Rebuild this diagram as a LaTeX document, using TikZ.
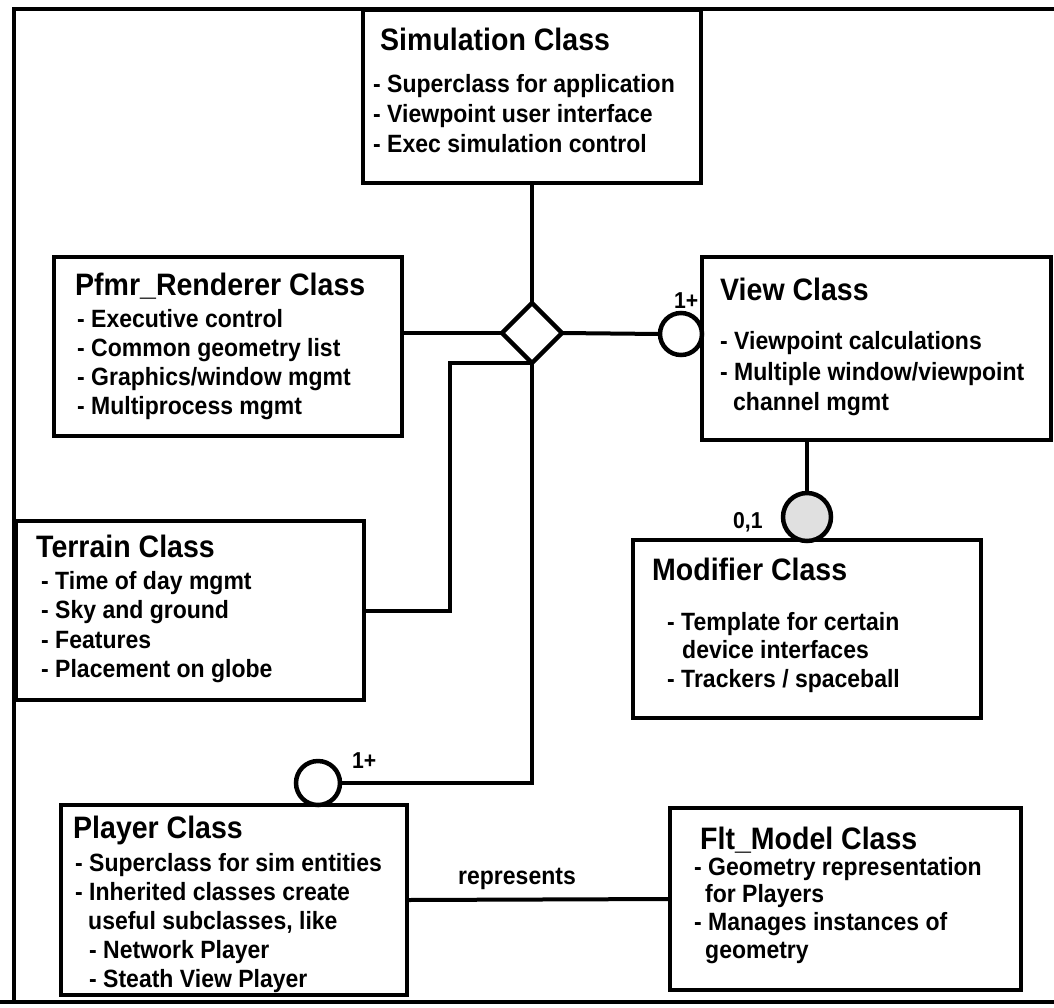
\documentclass[tikz,border=0pt]{standalone}
\usepackage{fontspec}
\setmainfont{Liberation Sans}[BoldFeatures={FakeStretch=0.92}]
\usetikzlibrary{shapes.geometric}

\begin{document}
\begin{tikzpicture}[x=1pt,y=-1pt,
  box/.style={draw,line width=4.5pt,rectangle,inner sep=0pt,outer sep=0pt},
  wire/.style={line width=4pt},
  frame/.style={line width=4pt},
  ring/.style={draw,circle,line width=4.5pt,inner sep=0pt,outer sep=0pt,fill=white},
  ttl/.style={anchor=base west,inner sep=0pt,font=\bfseries\fontsize{31}{36}\selectfont},
  itm/.style={anchor=base west,inner sep=0pt,font=\bfseries\fontsize{25}{29}\selectfont},
  mult/.style={anchor=base west,inner sep=0pt,font=\bfseries\fontsize{23}{27}\selectfont}]

\fill[white] (0,0) rectangle (1054,1007);
\useasboundingbox (0,0) rectangle (1054,1007);

% outer frame (open on the right)
\coordinate (fbl) at (14,1002);
\coordinate (ftl) at (14,9);
\coordinate (ftr) at (1054,9);
\coordinate (fbl0) at (0,1002);
\coordinate (fbr) at (1054,1002);
\draw[frame] (fbl) -- (ftl) -- (ftr);
\draw[frame] (fbl0) -- (fbr);

% class boxes
\node[box,minimum width=338pt,minimum height=173pt] (sim) at (532,96.5) {};
\node[box,minimum width=348pt,minimum height=179pt] (pf)  at (228,346.5) {};
\node[box,minimum width=349pt,minimum height=183pt] (vw)  at (876.5,348.5) {};
\node[box,minimum width=348pt,minimum height=178pt] (md)  at (807,629) {};
\node[box,minimum width=348pt,minimum height=179pt] (tr)  at (190,610.5) {};
\node[box,minimum width=346pt,minimum height=190pt] (pl)  at (234,900) {};
\node[box,minimum width=351pt,minimum height=182pt] (fm)  at (845.5,899) {};

% aggregation diamond and multiplicity rings
\node[draw,diamond,line width=4.5pt,inner sep=0pt,outer sep=0pt,
      minimum width=60pt,minimum height=60pt,fill=white] (dia) at (532,333) {};
\node[ring,minimum size=42pt] (vc) at (681,334) {};
\node[ring,minimum size=48pt,fill=black!12] (mc) at (807,517) {};
\node[ring,minimum size=44pt] (pc) at (318,783) {};

% connectors
\coordinate (tbend) at (450,0);
\draw[wire] (sim.south) -- (dia.north);
\draw[wire] (dia.west) -- (dia.west -| pf.east);
\draw[wire] (dia.east) -- (vc.west);
\draw[wire] (mc.north) -- (mc.north |- vw.south);
\draw[wire] (tr.east) -- (tr.east -| tbend) |- (dia.south);
\draw[wire] (dia.south) -- (dia.south |- pc.east) -- (pc.east);
\draw[wire] (pl.east) -- (fm.west);

% multiplicities and association label
\node[mult] (m1) at (674,308) {1+};
\node[mult] (m2) at (733,528) {0,1};
\node[mult] (m3) at (352,768) {1+};
\node[itm] (rep) at (458,884) {represents};

% Simulation Class
\node[ttl] (simt) at (380,50) {Simulation Class};
\node[itm] (sim1) at (373,92) {- Superclass for application};
\node[itm] (sim2) at (373,122) {- Viewpoint user interface};
\node[itm] (sim3) at (373,152) {- Exec simulation control};

% Pfmr_Renderer Class
\node[ttl] (pft) at (75,295) {Pfmr\_Renderer Class};
\node[itm] (pf1) at (77,327) {- Executive control};
\node[itm] (pf2) at (77,356) {- Common geometry list};
\node[itm] (pf3) at (77,385) {- Graphics/window mgmt};
\node[itm] (pf4) at (77,414) {- Multiprocess mgmt};

% View Class
\node[ttl] (vwt) at (720,300) {View Class};
\node[itm] (vw1) at (720,349) {- Viewpoint calculations};
\node[itm] (vw2) at (720,380) {- Multiple window/viewpoint};
\node[itm] (vw3) at (733,410) {channel mgmt};

% Modifier Class
\node[ttl] (mdt) at (652,580) {Modifier Class};
\node[itm] (md1) at (667,630) {- Template for certain};
\node[itm] (md2) at (682,658) {device interfaces};
\node[itm] (md3) at (667,687) {- Trackers / spaceball};

% Terrain Class
\node[ttl] (trt) at (36,557) {Terrain Class};
\node[itm] (tr1) at (41,589) {- Time of day mgmt};
\node[itm] (tr2) at (41,618) {- Sky and ground};
\node[itm] (tr3) at (41,648) {- Features};
\node[itm] (tr4) at (41,677) {- Placement on globe};

% Player Class
\node[ttl] (plt) at (73,838) {Player Class};
\node[itm] (pl1) at (75,871) {- Superclass for sim entities};
\node[itm] (pl2) at (75,900) {- Inherited classes create};
\node[itm] (pl3) at (88,929) {useful subclasses, like};
\node[itm] (pl4) at (89,958) {- Network Player};
\node[itm] (pl5) at (89,987) {- Steath View Player};

% Flt_Model Class
\node[ttl] (fmt) at (700,849) {Flt\_Model Class};
\node[itm] (fm1) at (694,875) {- Geometry representation};
\node[itm] (fm2) at (705,902) {for Players};
\node[itm] (fm3) at (694,930) {- Manages instances of};
\node[itm] (fm4) at (705,958) {geometry};
\end{tikzpicture}
\end{document}
